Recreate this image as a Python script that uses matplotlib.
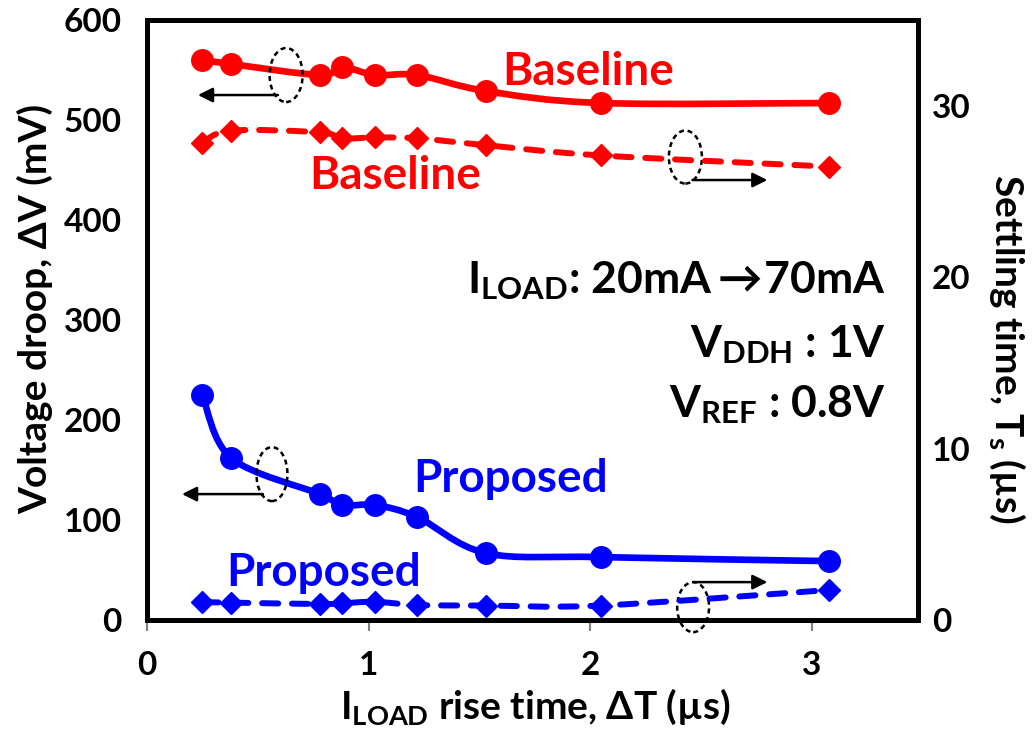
import numpy as np
import matplotlib.pyplot as plt
from matplotlib.path import Path
from matplotlib.patches import PathPatch, Ellipse

plt.rcParams['font.family'] = ['Lato', 'DejaVu Sans']
plt.rcParams['font.weight'] = 'bold'
plt.rcParams['axes.labelweight'] = 'bold'
plt.rcParams['mathtext.fontset'] = 'custom'
plt.rcParams['mathtext.rm'] = 'Lato:bold'
plt.rcParams['mathtext.bf'] = 'Lato:bold'
plt.rcParams['mathtext.it'] = 'Lato:bold'
plt.rcParams['mathtext.default'] = 'regular'
plt.rcParams['mathtext.fallback'] = 'stixsans'

# datos
rise_time = [0.25, 0.38, 0.78, 0.88, 1.03, 1.22, 1.53, 2.05, 3.08]
droop_base = [560, 556, 545, 553, 545, 545, 529, 517, 517]
droop_prop = [225, 162, 126, 115, 115, 103, 67, 63, 59]
settle_base = [27.85, 28.55, 28.45, 28.1, 28.15, 28.1, 27.7, 27.1, 26.45]
settle_prop = [1.05, 1.02, 0.94, 0.98, 1.07, 0.88, 0.85, 0.85, 1.76]

x_ticks = [0, 1, 2, 3]
y_ticks = [0, 100, 200, 300, 400, 500, 600]
y2_ticks = [0, 10, 20, 30]


def curva_suave(x, y):
    """
    Bezier tipo Excel (linea suavizada) que pasa por los puntos
    """
    p = np.column_stack([x, y]).astype(float)
    n = len(p)
    verts = [p[0]]
    codes = [Path.MOVETO]
    for i in range(n - 1):
        a = p[i - 1] if i > 0 else p[i]
        d = p[i + 2] if i + 2 < n else p[i + 1]
        verts += [p[i] + (p[i + 1] - a) / 6, p[i + 1] - (d - p[i]) / 6, p[i + 1]]
        codes += [Path.CURVE4] * 3
    return Path(verts, codes)


def serie(ax, x, y, color, marker, ms, dashed=False):
    estilo = dict(fill=False, edgecolor=color, lw=4.8, capstyle='round', zorder=3)
    if dashed:
        estilo.update(lw=4.3, linestyle=(0, (2.7, 2.3)))
    ax.add_patch(PathPatch(curva_suave(x, y), **estilo))
    ax.plot(x, y, marker, color=color, ms=ms, ls='none', zorder=4)


fig = plt.figure(figsize=(10.33, 7.33), dpi=100)
ax = fig.add_axes([0.1423, 0.154, 0.7464, 0.8187])
ax2 = ax.twinx()

serie(ax, rise_time, droop_base, 'red', 'o', 15.5)
serie(ax, rise_time, droop_prop, 'blue', 'o', 15.5)
serie(ax2, rise_time, settle_base, 'red', 'D', 11, dashed=True)
serie(ax2, rise_time, settle_prop, 'blue', 'D', 11, dashed=True)

ax.set_xlim(0, 3.48)
ax.set_ylim(0, 600)
ax2.set_ylim(0, 35)
ax.set_xticks(x_ticks)
ax.set_yticks(y_ticks)
ax2.set_yticks(y2_ticks)

ax.tick_params(axis='x', direction='out', length=8, width=1.5, color='gray',
               labelsize=24, pad=14)
ax.tick_params(axis='y', length=0, labelsize=24, pad=18)
ax2.tick_params(axis='y', length=0, labelsize=24, pad=10)
for a in (ax, ax2):
    for s in a.spines.values():
        s.set_linewidth(3.5)
        s.set_color('black')

ax.set_xlabel(r'I$_{LOAD}$ rise time, ΔT (µs)', fontsize=28, va='center')
ax.xaxis.set_label_coords(0.503, -0.145)
ax.set_ylabel('Voltage droop, ΔV (mV)', fontsize=28, va='center')
ax.yaxis.set_label_coords(-0.145, 0.518)
ax2.set_ylabel(r'Settling time, T$_s$ (µs)', fontsize=28, rotation=270,
               va='center')
ax2.yaxis.set_label_coords(1.115, 0.453)

# etiquetas de las series
ax.text(1.99, 548, 'Baseline', color='red', fontsize=33, ha='center', va='center')
ax.text(1.12, 444, 'Baseline', color='red', fontsize=33, ha='center', va='center')
ax.text(1.64, 141, 'Proposed', color='blue', fontsize=33, ha='center', va='center')
ax.text(0.795, 47, 'Proposed', color='blue', fontsize=33, ha='center', va='center')

# condiciones
ax.text(3.335, 340, r'I$_{LOAD}$: 20mA$\rightarrow\!$70mA', fontsize=32,
        ha='right', va='center')
ax.text(3.335, 276, r'V$_{DDH}$ : 1V', fontsize=32, ha='right', va='center')
ax.text(3.335, 216, r'V$_{REF}$ : 0.8V', fontsize=32, ha='right', va='center')

# elipses y flechas que indican el eje
marcas = [
    ((0.628, 545), 0.149, 54, 0.591, 0.23, 525),
    ((2.43, 463), 0.149, 53, 2.462, 2.80, 440),
    ((0.564, 146), 0.14, 54, 0.523, 0.158, 126),
    ((2.465, 13), 0.144, 50, 2.465, 2.80, 38),
]
for centro, w, h, x0, x1, ya in marcas:
    ax.add_patch(Ellipse(centro, w, h, fill=False, edgecolor='black', lw=1.8,
                         linestyle=(0, (2, 1.5)), clip_on=False, zorder=5))
    ax.annotate('', xy=(x1, ya), xytext=(x0, ya),
                arrowprops=dict(arrowstyle='-|>', color='black', lw=1.8,
                                mutation_scale=22, shrinkA=0, shrinkB=0))

fig.savefig('out.png', dpi=100)
